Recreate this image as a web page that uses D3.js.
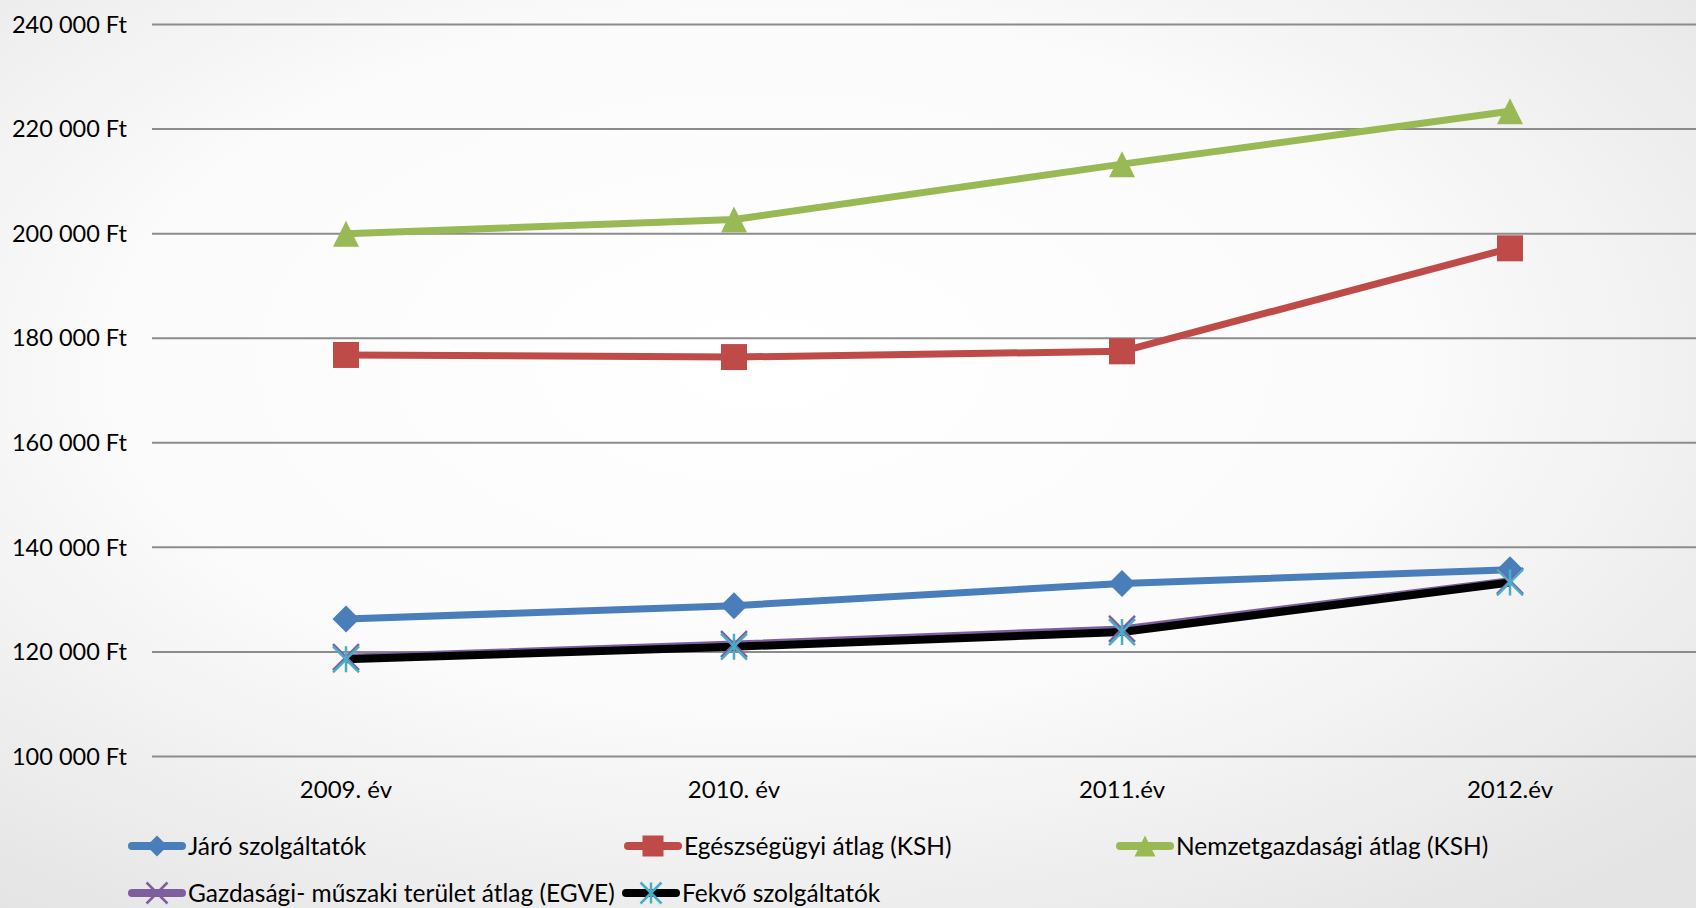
<!DOCTYPE html>
<html>
<head>
<meta charset="utf-8">
<script src="https://cdn.jsdelivr.net/npm/d3@7"></script>
<style>
	html, body { margin: 0; padding: 0; }
	body { width: 1696px; height: 908px; overflow: hidden; }
	svg { display: block; font-family: Lato, "Open Sans", sans-serif; }
</style>
</head>
<body>
<script>
// categories and series
const years = ['2009. év', '2010. év', '2011.év', '2012.év'];
const jaro = [126200, 128750, 133000, 135600];
const egeszseg = [176700, 176300, 177400, 197100];
const nemzet = [199900, 202600, 213200, 223300];
const gazdasagi = [118900, 121400, 124300, 133500];
const fekvo = [118500, 120900, 123700, 133200];
const yTicks = [100000, 120000, 140000, 160000, 180000, 200000, 220000, 240000];

const series = [
	{ name: 'Járó szolgáltatók', values: jaro, color: '#4a7ebb', marker: 'diamond', width: 7 },
	{ name: 'Egészségügyi átlag (KSH)', values: egeszseg, color: '#be4b48', marker: 'square', width: 7 },
	{ name: 'Nemzetgazdasági átlag (KSH)', values: nemzet, color: '#98b954', marker: 'triangle', width: 7 },
	{ name: 'Gazdasági- műszaki terület átlag (EGVE)', values: gazdasagi, color: '#7d5fa0', marker: 'x', markerColor: '#7d5fa0', width: 7 },
	{ name: 'Fekvő szolgáltatók', values: fekvo, color: '#000000', marker: 'star', markerColor: '#4bacc6', width: 8 }
];

const W = 1696, H = 908;
const plotLeft = 152, plotTop = 24, plotBottom = 756;

const svg = d3.select('body').append('svg')
	.attr('width', W)
	.attr('height', H);

// background: soft radial fade to grey at the edges
let defs = svg.append('defs');
let grad = defs.append('radialGradient')
	.attr('id', 'bg')
	.attr('cx', '45%').attr('cy', '40%').attr('r', '75%');
grad.append('stop').attr('offset', '0%').attr('stop-color', '#ffffff');
grad.append('stop').attr('offset', '50%').attr('stop-color', '#fbfbfb');
grad.append('stop').attr('offset', '100%').attr('stop-color', '#e4e4e4');
svg.append('rect').attr('width', W).attr('height', H).attr('fill', 'url(#bg)');

const x = d3.scaleBand().domain(years).range([plotLeft, plotLeft + 4 * 388]);
const y = d3.scaleLinear().domain([100000, 240000]).range([plotBottom, plotTop]);

const hu = d3.formatLocale({ decimal: ',', thousands: ' ', grouping: [3], currency: ['', ' Ft'] });
const fmt = hu.format('$,.0f');

// y axis + gridlines
let yAxis = svg.append('g')
	.attr('transform', `translate(${plotLeft},0)`)
	.call(d3.axisLeft(y).tickValues(yTicks).tickFormat(fmt)
		.tickSizeInner(-(W - plotLeft)).tickSizeOuter(0).tickPadding(25));
yAxis.select('.domain').remove();
yAxis.selectAll('.tick line').attr('stroke', '#8c8c8c').attr('stroke-width', 2);
yAxis.selectAll('.tick text')
	.attr('fill', '#000')
	.style('font-size', '23.5px')
	.style('font-family', 'Lato, "Open Sans", sans-serif')
	.attr('dy', '0.35em');

// x labels
svg.append('g').selectAll('text')
	.data(years)
	.enter().append('text')
	.attr('x', d => x(d) + x.bandwidth() / 2)
	.attr('y', 790)
	.attr('dy', '0.35em')
	.attr('text-anchor', 'middle')
	.style('font-size', '24px')
	.text(d => d);

function markerPath(type, s) {
	let h = s / 2;
	switch (type) {
		case 'diamond': return `M0,${-h}L${h},0L0,${h}L${-h},0Z`;
		case 'square': return `M${-h},${-h}H${h}V${h}H${-h}Z`;
		case 'triangle': return `M0,${-h}L${h},${h}H${-h}Z`;
		case 'x': return `M${-h},${-h}L${h},${h}M${h},${-h}L${-h},${h}`;
		case 'star': return `M${-h},${-h}L${h},${h}M${h},${-h}L${-h},${h}M0,${-h}V${h}`;
	}
}
const filled = t => t === 'diamond' || t === 'square' || t === 'triangle';

const line = d3.line()
	.x((d, i) => x(years[i]) + x.bandwidth() / 2)
	.y(d => y(d));

for (let s of series) {
	svg.append('path')
		.datum(s.values)
		.attr('d', line)
		.attr('fill', 'none')
		.attr('stroke', s.color)
		.attr('stroke-width', s.width)
		.attr('stroke-linejoin', 'round');
}
for (let s of series) {
	let size = s.marker === 'diamond' ? 27 : 26;
	svg.append('g').selectAll('path')
		.data(s.values)
		.enter().append('path')
		.attr('transform', (d, i) => `translate(${x(years[i]) + x.bandwidth() / 2},${y(d)})`)
		.attr('d', markerPath(s.marker, size))
		.attr('fill', filled(s.marker) ? s.color : 'none')
		.attr('stroke', filled(s.marker) ? 'none' : (s.markerColor || s.color))
		.attr('stroke-width', 2.5);
}

// legend
const legendPos = [[128, 846], [624, 846], [1116, 846], [128, 893], [622, 893]];
let legend = svg.append('g').selectAll('g')
	.data(series)
	.enter().append('g')
	.attr('transform', (d, i) => `translate(${legendPos[i][0]},${legendPos[i][1]})`);
legend.append('line')
	.attr('x1', 4).attr('x2', 54)
	.attr('stroke', d => d.color)
	.attr('stroke-width', 8)
	.attr('stroke-linecap', 'round');
legend.append('path')
	.attr('transform', 'translate(29,0)')
	.attr('d', d => markerPath(d.marker, 21))
	.attr('fill', d => filled(d.marker) ? d.color : 'none')
	.attr('stroke', d => filled(d.marker) ? 'none' : (d.markerColor || d.color))
	.attr('stroke-width', 2.5);
legend.append('text')
	.attr('x', 60)
	.attr('dy', '0.35em')
	.style('font-size', '24.5px')
	.text(d => d.name);
</script>
</body>
</html>
